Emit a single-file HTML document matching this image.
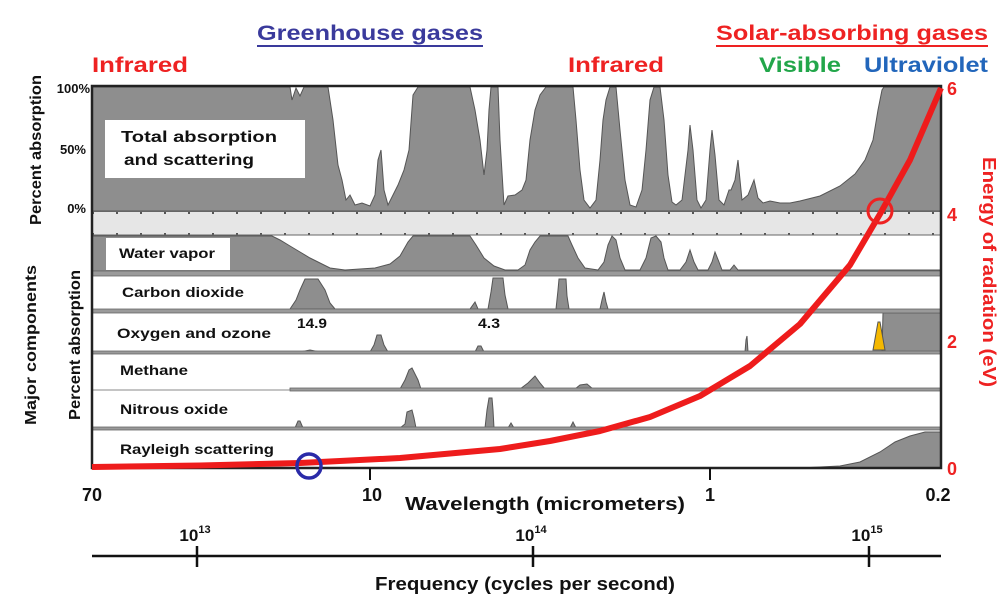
<!DOCTYPE html>
<html><head><meta charset="utf-8"><style>
html,body{margin:0;padding:0;background:#fff;}
svg{display:block;font-family:"Liberation Sans",Arial,sans-serif;font-weight:bold;}
</style></head><body>
<svg width="1007" height="613" viewBox="0 0 1007 613" xmlns="http://www.w3.org/2000/svg">
<g fill="#8e8e8e" stroke="#555" stroke-width="1">
<polygon points="92,211 92,87 290,87 292,100 296,88 300,96 304,87 328,87 333,120 338,165 342,180 346,200 350,195 355,205 362,203 370,206 375,195 378,160 381,150 384,190 388,205 393,195 398,185 404,170 409,150 413,95 418,87 470,87 475,110 480,140 484,175 487,150 489,110 491,87 498,87 500,140 504,205 508,196 515,195 522,190 526,180 530,140 535,110 540,95 546,87 573,87 576,120 580,170 584,200 590,208 596,200 600,160 603,120 606,100 610,87 616,87 620,130 625,180 630,205 636,207 642,190 646,150 650,100 654,87 660,87 664,120 668,175 672,202 676,205 682,200 688,150 690,125 693,150 697,200 701,208 706,200 710,150 712,130 715,155 719,200 724,205 729,190 731,190 735,180 738,160 742,200 748,195 750,190 754,180 758,198 763,203 770,201 780,203 790,203 800,201 820,196 840,186 855,174 865,160 873,140 878,110 882,90 884,87 941,87 941,211"/>
<polygon points="92,271 92,236 272,236 280,240 290,246 300,252 310,258 320,263 330,268 345,270 360,269 375,268 390,264 400,256 408,242 413,236 470,236 476,245 484,258 494,266 505,270 518,270 525,265 530,250 535,242 540,236 568,236 572,245 578,258 585,268 598,270 604,262 608,245 612,236 616,240 620,258 625,270 640,270 646,258 651,238 656,236 661,242 664,258 668,270 680,270 686,262 690,250 694,262 698,270 708,270 712,262 715,252 719,262 722,270 730,270 734,265 738,270 760,270 941,270 941,271"/>
<polygon points="290,309 296,300 300,290 305,279 318,279 325,290 330,303 335,309 470,309 475,302 478,309 488,309 491,292 493,278 503,278 505,295 508,309 556,309 558,290 559,279 566,279 567,296 569,309 600,309 602,300 604,292 606,302 608,309"/>
<polygon points="92,352 300,352 310,350 320,352 370,352 374,345 377,335 381,335 384,345 388,352 475,352 478,346 481,346 484,352 745,352 746,340 747,336 748,352 882,352 883,313 941,313 941,352"/>
<polygon points="290,390 290,389 400,389 405,380 409,370 412,368 415,374 418,380 421,389 520,389 528,383 535,376 540,383 545,389 575,389 580,385 587,384 593,389 941,389 941,390"/>
<polygon points="92,428 295,428 298,421 300,421 303,428 400,428 405,424 407,412 412,410 414,418 416,428 485,428 487,410 489,398 492,398 493,410 494,428 508,428 511,423 514,428 570,428 573,422 576,428 941,428"/>
<polygon points="800,468 840,466 860,462 880,452 895,442 910,436 925,432 941,432 941,468"/>
</g>
<rect x="92" y="212" width="849" height="23" fill="#e6e6e6"/>
<line x1="92" y1="213" x2="941" y2="213" stroke="#555" stroke-width="2" stroke-dasharray="2 22"/>
<line x1="92" y1="234" x2="941" y2="234" stroke="#555" stroke-width="2" stroke-dasharray="2 22"/>
<line x1="92" y1="211.5" x2="941" y2="211.5" stroke="#666" stroke-width="1"/>
<line x1="92" y1="235" x2="941" y2="235" stroke="#666" stroke-width="1"/>
<g fill="#9a9a9a" stroke="#666" stroke-width="0.8">
<rect x="92" y="271" width="849" height="5"/>
<rect x="92" y="309" width="849" height="4"/>
<rect x="92" y="351" width="849" height="3"/>
<rect x="290" y="388" width="651" height="3"/>
<rect x="92" y="427" width="849" height="3"/>
</g>
<line x1="92" y1="390" x2="290" y2="390" stroke="#888"/>
<polygon points="873,350 878,322 880,322 885,350" fill="#f5b800" stroke="#555" stroke-width="1"/>
<rect x="105" y="120" width="200" height="58" fill="#fff"/>
<rect x="106" y="238" width="124" height="32" fill="#fff"/>
<g font-size="16" fill="#111">
<text x="121" y="142" textLength="156" lengthAdjust="spacingAndGlyphs">Total absorption</text>
<text x="124" y="165" textLength="130" lengthAdjust="spacingAndGlyphs">and scattering</text>
</g>
<g font-size="14" fill="#111">
<text x="119" y="258" textLength="96" lengthAdjust="spacingAndGlyphs">Water vapor</text>
<text x="122" y="297" textLength="122" lengthAdjust="spacingAndGlyphs">Carbon dioxide</text>
<text x="117" y="338" textLength="154" lengthAdjust="spacingAndGlyphs">Oxygen and ozone</text>
<text x="120" y="375" textLength="68" lengthAdjust="spacingAndGlyphs">Methane</text>
<text x="120" y="414" textLength="108" lengthAdjust="spacingAndGlyphs">Nitrous oxide</text>
<text x="120" y="454" textLength="154" lengthAdjust="spacingAndGlyphs">Rayleigh scattering</text>
<text x="297" y="328" textLength="30" lengthAdjust="spacingAndGlyphs">14.9</text>
<text x="478" y="328" textLength="22" lengthAdjust="spacingAndGlyphs">4.3</text>
</g>
<rect x="92" y="86" width="849" height="382" fill="none" stroke="#222" stroke-width="2.5"/>
<line x1="370" y1="468" x2="370" y2="480" stroke="#111" stroke-width="2"/>
<line x1="710" y1="468" x2="710" y2="480" stroke="#111" stroke-width="2"/>
<polyline points="92,467 200,465.5 300,463 400,458 500,449 550,441 600,431 650,417 700,396 750,366 800,324 850,265 880,214 910,160 941,88" fill="none" stroke="#ee1c1c" stroke-width="6" stroke-linejoin="round"/>
<circle cx="880" cy="211" r="12" fill="none" stroke="#e22" stroke-width="3"/>
<circle cx="309" cy="466" r="12" fill="none" stroke="#2a2aa8" stroke-width="3.5"/>
<g font-size="18" fill="#111" text-anchor="middle">
<text x="92" y="501">70</text>
<text x="372" y="501">10</text>
<text x="710" y="501">1</text>
<text x="938" y="501">0.2</text>
<text x="545" y="510" textLength="280" lengthAdjust="spacingAndGlyphs">Wavelength (micrometers)</text>
<text x="525" y="590" textLength="300" lengthAdjust="spacingAndGlyphs">Frequency (cycles per second)</text>
</g>
<line x1="92" y1="556" x2="941" y2="556" stroke="#111" stroke-width="2.5"/>
<g stroke="#111" stroke-width="2.5">
<line x1="197" y1="546" x2="197" y2="567"/>
<line x1="533" y1="546" x2="533" y2="567"/>
<line x1="869" y1="546" x2="869" y2="567"/>
</g>
<g font-size="17" fill="#111" text-anchor="middle">
<text x="195" y="541">10<tspan font-size="11" dy="-8">13</tspan></text>
<text x="531" y="541">10<tspan font-size="11" dy="-8">14</tspan></text>
<text x="867" y="541">10<tspan font-size="11" dy="-8">15</tspan></text>
</g>
<g font-size="18" fill="#ee2222">
<text x="947" y="95">6</text>
<text x="947" y="221">4</text>
<text x="947" y="348">2</text>
<text x="947" y="475">0</text>
<text transform="translate(983,272) rotate(90)" text-anchor="middle" textLength="230" lengthAdjust="spacingAndGlyphs">Energy of radiation (eV)</text>
</g>
<g font-size="13" fill="#111" text-anchor="end">
<text x="90" y="93">100%</text>
<text x="86" y="154">50%</text>
<text x="86" y="213">0%</text>
</g>
<g font-size="16" fill="#111" text-anchor="middle">
<text transform="translate(41,150) rotate(-90)" textLength="150" lengthAdjust="spacingAndGlyphs">Percent absorption</text>
<text transform="translate(36,345) rotate(-90)" textLength="160" lengthAdjust="spacingAndGlyphs">Major components</text>
<text transform="translate(80,345) rotate(-90)" textLength="150" lengthAdjust="spacingAndGlyphs">Percent absorption</text>
</g>
<g font-size="21">
<text x="92" y="72" fill="#ee2222" textLength="96" lengthAdjust="spacingAndGlyphs">Infrared</text>
<text x="568" y="72" fill="#ee2222" textLength="96" lengthAdjust="spacingAndGlyphs">Infrared</text>
<text x="759" y="72" fill="#22a64a" textLength="82" lengthAdjust="spacingAndGlyphs">Visible</text>
<text x="864" y="72" fill="#2266bb" textLength="124" lengthAdjust="spacingAndGlyphs">Ultraviolet</text>
<text x="257" y="40" fill="#3a3a9c" textLength="226" lengthAdjust="spacingAndGlyphs">Greenhouse gases</text>
<text x="716" y="40" fill="#ee2222" textLength="272" lengthAdjust="spacingAndGlyphs">Solar-absorbing gases</text>
</g>
<line x1="257" y1="46" x2="483" y2="46" stroke="#3a3a9c" stroke-width="2"/>
<line x1="716" y1="46" x2="988" y2="46" stroke="#ee2222" stroke-width="2"/>
</svg>
</body></html>
